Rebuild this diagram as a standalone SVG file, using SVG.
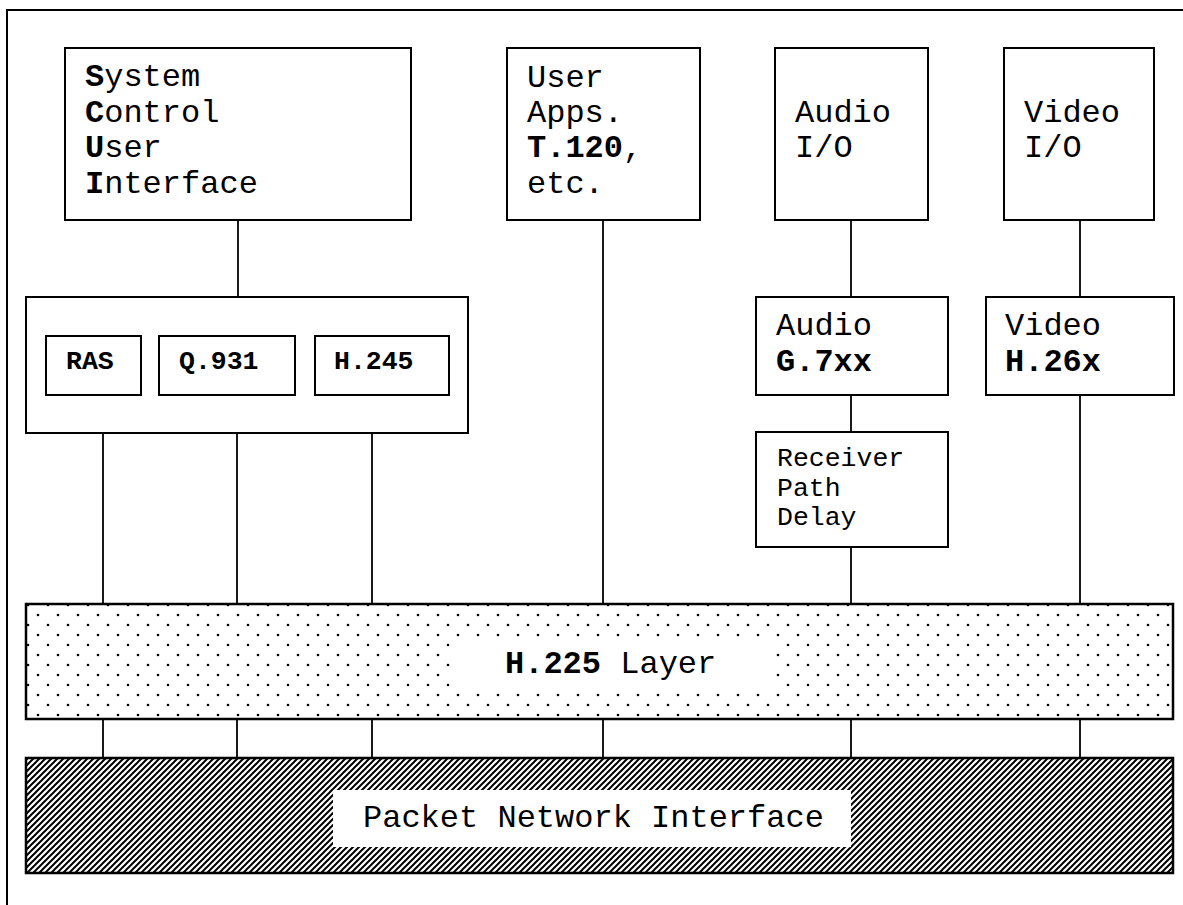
<svg xmlns="http://www.w3.org/2000/svg" width="1183" height="905" viewBox="0 0 1183 905">
<style>
.box{fill:#fff;stroke:#000;stroke-width:2}
.t{font-family:"Liberation Mono","Courier New",monospace;font-size:32px;fill:#000}
.s{font-family:"Liberation Mono","Courier New",monospace;font-size:26.5px;fill:#000}
.b{font-weight:bold}
.c{stroke:#000;stroke-width:1.8;fill:none}
</style>
<defs>
<pattern id="dots" patternUnits="userSpaceOnUse" x="23" y="610" width="20" height="20">
<circle cx="5" cy="15" r="1.3" fill="#000"/>
<circle cx="15" cy="5" r="1.3" fill="#000"/>
</pattern>
<pattern id="hatch" patternUnits="userSpaceOnUse" x="0" y="0" width="6" height="6">
<path d="M0,6 L6,0 M-1,1 L1,-1 M5,7 L7,5" stroke="#000" stroke-width="2"/>
</pattern>
</defs>
<rect width="1183" height="905" fill="#fff"/>
<path d="M7,905 V10 H1183" fill="none" stroke="#000" stroke-width="2"/>

<g id="connectors">
<line class="c" x1="238" y1="220" x2="238" y2="297"/>
<line class="c" x1="603" y1="220" x2="603" y2="604"/>
<line class="c" x1="851" y1="220" x2="851" y2="297"/>
<line class="c" x1="1080" y1="220" x2="1080" y2="297"/>
<line class="c" x1="851" y1="395" x2="851" y2="432"/>
<line class="c" x1="851" y1="547" x2="851" y2="604"/>
<line class="c" x1="1080" y1="395" x2="1080" y2="604"/>
<line class="c" x1="103" y1="395" x2="103" y2="604"/>
<line class="c" x1="237" y1="395" x2="237" y2="604"/>
<line class="c" x1="372" y1="395" x2="372" y2="604"/>
<line class="c" x1="103" y1="719" x2="103" y2="758"/>
<line class="c" x1="237" y1="719" x2="237" y2="758"/>
<line class="c" x1="372" y1="719" x2="372" y2="758"/>
<line class="c" x1="603" y1="719" x2="603" y2="758"/>
<line class="c" x1="851" y1="719" x2="851" y2="758"/>
<line class="c" x1="1080" y1="719" x2="1080" y2="758"/>
</g>

<g id="scui">
<rect class="box" x="65" y="48" width="346" height="172"/>
<text class="t" x="85" y="86"><tspan class="b">S</tspan>ystem</text>
<text class="t" x="85" y="121.5"><tspan class="b">C</tspan>ontrol</text>
<text class="t" x="85" y="157"><tspan class="b">U</tspan>ser</text>
<text class="t" x="85" y="192.5"><tspan class="b">I</tspan>nterface</text>
</g>

<g id="userapps">
<rect class="box" x="507" y="48" width="193" height="172"/>
<text class="t" x="527" y="87">User</text>
<text class="t" x="527" y="122">Apps.</text>
<text class="t" x="527" y="157"><tspan class="b">T.120</tspan>,</text>
<text class="t" x="527" y="193">etc.</text>
</g>

<g id="audioio">
<rect class="box" x="775" y="48" width="153" height="172"/>
<text class="t" x="795" y="122">Audio</text>
<text class="t" x="795" y="157">I/O</text>
</g>

<g id="videoio">
<rect class="box" x="1004" y="48" width="150" height="172"/>
<text class="t" x="1024" y="122">Video</text>
<text class="t" x="1024" y="157">I/O</text>
</g>

<g id="control">
<rect class="box" x="26" y="297" width="442" height="136" fill="none"/>
</g>
<g id="ras">
<rect class="box" x="46" y="336" width="95" height="59"/>
<text class="s b" x="66" y="369">RAS</text>
</g>
<g id="q931">
<rect class="box" x="159" y="336" width="136" height="59"/>
<text class="s b" x="179" y="369">Q.931</text>
</g>
<g id="h245">
<rect class="box" x="315" y="336" width="134" height="59"/>
<text class="s b" x="334" y="369">H.245</text>
</g>

<g id="audiocodec">
<rect class="box" x="756" y="297" width="192" height="98"/>
<text class="t" x="776" y="335">Audio</text>
<text class="t b" x="776" y="371">G.7xx</text>
</g>

<g id="videocodec">
<rect class="box" x="986" y="297" width="188" height="98"/>
<text class="t" x="1005" y="335">Video</text>
<text class="t b" x="1005" y="371">H.26x</text>
</g>

<g id="delay">
<rect class="box" x="756" y="432" width="192" height="115"/>
<text class="s" x="777" y="466">Receiver</text>
<text class="s" x="777" y="495.5">Path</text>
<text class="s" x="777" y="525">Delay</text>
</g>

<g id="h225">
<rect x="26" y="604" width="1147" height="115" fill="url(#dots)" stroke="#000" stroke-width="2.5"/>
<rect x="451" y="641" width="321" height="52" fill="#fff"/>
<text class="t" x="505" y="673"><tspan class="b">H.225</tspan> Layer</text>
</g>

<g id="pni">
<rect x="26" y="758" width="1147" height="115" fill="url(#hatch)" stroke="#000" stroke-width="2.5"/>
<rect x="333" y="790" width="518" height="57" fill="#fff"/>
<text class="t" x="363" y="827">Packet Network Interface</text>
</g>
</svg>
